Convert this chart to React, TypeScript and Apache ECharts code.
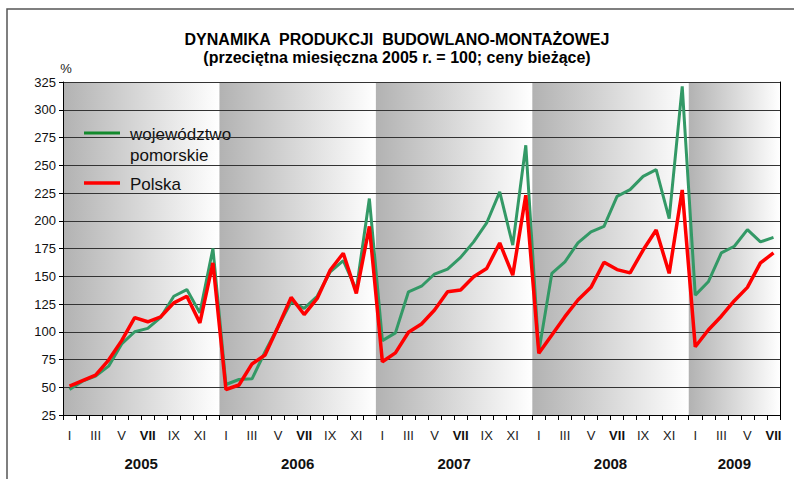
import React, { useEffect, useRef } from 'react';
import * as echarts from 'echarts';

const years = ['2005', '2006', '2007', '2008', '2009'];
const monthsInYear = [12, 12, 12, 12, 7];
const romanMonths = ['I', 'II', 'III', 'IV', 'V', 'VI', 'VII', 'VIII', 'IX', 'X', 'XI', 'XII'];
const yTicks = { min: 25, max: 325, step: 25 };

const pomorskie = [
  48, 55.5, 60, 69, 89, 100, 103, 113, 132, 138, 117, 175,
  52.5, 57, 57.6, 82, 104.5, 127, 121, 132, 154, 164, 137.6, 220,
  92, 99, 136, 141, 152, 156.5, 167, 181, 198, 226, 178, 268,
  82, 152.6, 163, 180, 190, 195, 222, 228, 240, 246, 202, 321,
  133, 145, 171, 177, 192, 181, 185,
];
const polska = [
  51, 56, 61, 74.5, 92, 112.7, 109, 113.5, 126, 132, 108, 162,
  48, 52, 71, 79, 104.5, 131, 115.5, 130, 155.6, 170.7, 134.6, 195,
  73, 81, 99.5, 107, 119.6, 136, 137.6, 149.6, 157, 180, 151, 223,
  80.6, 97, 113.6, 128.6, 140, 162.6, 156, 153, 173.6, 191.7, 152.6, 227.7,
  86.5, 101.6, 114, 128, 140, 162, 171,
];

const FONT = '"Liberation Sans", Arial, sans-serif';

export default function App() {
  const ref = useRef<HTMLDivElement>(null);

  useEffect(() => {
    if (!ref.current) return;
    const chart = echarts.init(ref.current, null, { renderer: 'svg' });

    const categories: string[] = [];
    years.forEach((y, i) => {
      romanMonths.slice(0, monthsInYear[i]).forEach((m) => categories.push(`${m} ${y}`));
    });
    const total = categories.length;

    const bands: number[][] = [];
    const yearCenters: number[] = [];
    let acc = 0;
    monthsInYear.forEach((n) => {
      bands.push([acc, acc + n]);
      yearCenters.push(acc + n / 2);
      acc += n;
    });

    const bandFill = new echarts.graphic.LinearGradient(0, 0, 1, 0, [
      { offset: 0, color: '#b2b2b2' },
      { offset: 1, color: '#ffffff' },
    ]);

    const option: any = {
      animation: false,
      backgroundColor: '#ffffff',
      title: {
        text: 'DYNAMIKA  PRODUKCJI  BUDOWLANO-MONTAŻOWEJ',
        subtext: '(przeciętna miesięczna 2005 r. = 100; ceny bieżące)',
        left: 'center',
        top: 31,
        itemGap: 2,
        padding: 0,
        textStyle: { fontFamily: FONT, fontSize: 16, fontWeight: 'bold', color: '#000' },
        subtextStyle: { fontFamily: FONT, fontSize: 16, fontWeight: 'bold', color: '#000' },
      },
      grid: { left: 63, right: 14, top: 82, bottom: 64, containLabel: false },
      xAxis: [
        {
          type: 'category',
          data: categories,
          boundaryGap: true,
          position: 'bottom',
          axisLine: { show: true, lineStyle: { color: '#000', width: 1 } },
          axisTick: { show: true, interval: 0, length: 5, lineStyle: { color: '#000' } },
          axisLabel: {
            interval: 0,
            margin: 14,
            fontFamily: FONT,
            fontSize: 13,
            color: '#222',
            formatter: (_v: string, idx: number) => {
              const m = idx % 12;
              if (m % 2 !== 0) return '';
              const r = romanMonths[m];
              return m === 6 ? `{b|${r}}` : r;
            },
            rich: { b: { fontFamily: FONT, fontSize: 13, fontWeight: 'bold', color: '#111' } },
          },
          splitLine: { show: false },
        },
        {
          type: 'value',
          min: 0,
          max: total,
          position: 'bottom',
          axisLine: { show: false },
          axisTick: { show: false },
          splitLine: { show: false },
          axisLabel: {
            customValues: yearCenters,
            margin: 41,
            fontFamily: FONT,
            fontSize: 15,
            fontWeight: 'bold',
            color: '#111',
            formatter: (v: number) => {
              const i = yearCenters.findIndex((c) => Math.abs(c - v) < 1e-6);
              return i >= 0 ? years[i] : '';
            },
          },
        },
      ],
      yAxis: [
        {
          type: 'value',
          min: yTicks.min,
          max: yTicks.max,
          interval: yTicks.step,
          name: '%',
          nameLocation: 'end',
          nameGap: 7,
          nameTextStyle: { fontFamily: FONT, fontSize: 13, color: '#222', padding: [0, 0, 0, 6] },
          axisLine: { show: true, lineStyle: { color: '#000', width: 1 } },
          axisTick: { show: true, length: 4, lineStyle: { color: '#000' } },
          axisLabel: { fontFamily: FONT, fontSize: 13, color: '#111', margin: 7 },
          splitLine: { show: true, lineStyle: { color: '#333', width: 1 } },
        },
        {
          type: 'value',
          min: yTicks.min,
          max: yTicks.max,
          position: 'right',
          axisLine: { show: true, lineStyle: { color: '#000', width: 1 } },
          axisTick: { show: false },
          axisLabel: { show: false },
          splitLine: { show: false },
        },
      ],
      series: [
        {
          type: 'custom',
          name: 'bands',
          xAxisIndex: 1,
          yAxisIndex: 0,
          z: -1,
          silent: true,
          data: bands,
          renderItem: (_params: any, api: any) => {
            const p1 = api.coord([api.value(0), yTicks.max]);
            const p2 = api.coord([api.value(1), yTicks.min]);
            return {
              type: 'rect',
              shape: { x: p1[0], y: p1[1], width: p2[0] - p1[0], height: p2[1] - p1[1] },
              style: { fill: bandFill },
            };
          },
        },
        {
          type: 'line',
          name: 'województwo pomorskie',
          xAxisIndex: 0,
          yAxisIndex: 0,
          data: pomorskie,
          symbol: 'none',
          color: '#339966',
          lineStyle: { color: '#339966', width: 3 },
        },
        {
          type: 'line',
          name: 'Polska',
          xAxisIndex: 0,
          yAxisIndex: 0,
          data: polska,
          symbol: 'none',
          color: '#ff0000',
          lineStyle: { color: '#ff0000', width: 3.5 },
        },
      ],
      graphic: [
        {
          type: 'rect',
          shape: { x: 7, y: 9, width: 800, height: 480 },
          style: { fill: 'none', stroke: '#555', lineWidth: 1.5 },
          silent: true,
        },
        {
          type: 'line',
          shape: { x1: 84, y1: 133, x2: 120, y2: 133 },
          style: { stroke: '#128a2c', lineWidth: 3 },
        },
        {
          type: 'text',
          x: 130,
          y: 134,
          style: { text: 'województwo', font: `17px ${FONT}`, fill: '#111', verticalAlign: 'middle' },
        },
        {
          type: 'text',
          x: 130,
          y: 155,
          style: { text: 'pomorskie', font: `17px ${FONT}`, fill: '#111', verticalAlign: 'middle' },
        },
        {
          type: 'line',
          shape: { x1: 84, y1: 183, x2: 120, y2: 183 },
          style: { stroke: '#ff0000', lineWidth: 3.5 },
        },
        {
          type: 'text',
          x: 130,
          y: 184,
          style: { text: 'Polska', font: `17px ${FONT}`, fill: '#111', verticalAlign: 'middle' },
        },
      ],
    };

    chart.setOption(option);
    return () => chart.dispose();
  }, []);

  return (
    <div
      ref={ref}
      style={{ position: 'absolute', left: 0, top: 0, width: 794, height: 479, background: '#fff' }}
    />
  );
}
